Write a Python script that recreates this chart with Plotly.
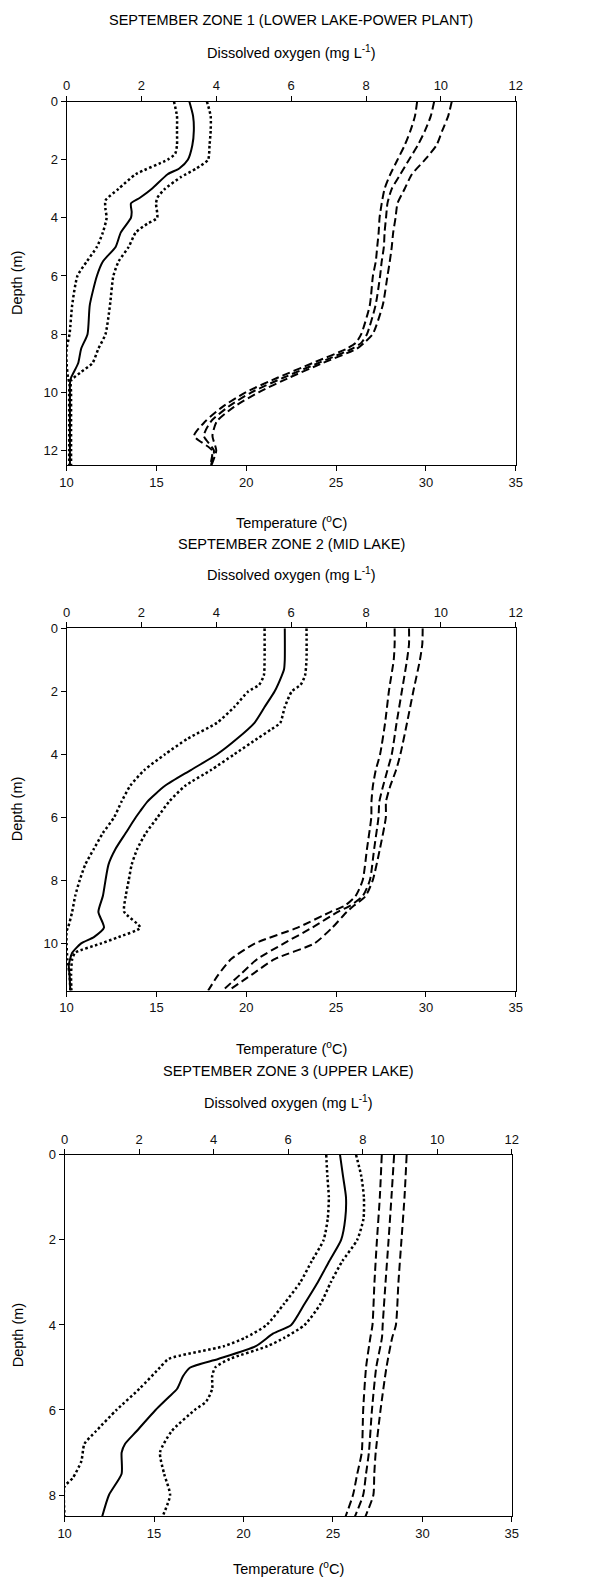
import plotly.graph_objects as go

# ---------------- DATA ----------------
PANEL_TITLES = ["SEPTEMBER ZONE 1 (LOWER LAKE-POWER PLANT)",
                "SEPTEMBER ZONE 2 (MID LAKE)",
                "SEPTEMBER ZONE 3 (UPPER LAKE)"]
DEPTH_MAX = [12.5, 11.5, 8.5]
DO_TICKS = [0, 2, 4, 6, 8, 10, 12]
T_TICKS = [10, 15, 20, 25, 30, 35]

# Zone 1 - dissolved oxygen (mg/L)
Z1_DO_MEAN_D = [0, 0.5, 1, 1.5, 2, 2.3, 2.5, 3, 3.3, 3.5, 3.8, 4, 4.5, 5, 5.5, 6, 7, 8, 8.5, 9, 9.5, 9.7, 10, 11, 12, 12.5]
Z1_DO_MEAN = [3.28, 3.38, 3.40, 3.36, 3.24, 3.01, 2.70, 2.28, 1.97, 1.72, 1.74, 1.72, 1.45, 1.31, 0.97, 0.81, 0.62, 0.56, 0.39, 0.31, 0.12, 0.09, 0.09, 0.09, 0.09, 0.09]
Z1_DO_LO_D = [0, 0.5, 1, 1.5, 1.8, 2, 2.5, 3, 3.4, 3.7, 4, 4.5, 5, 5.5, 6, 7, 8, 8.5, 9, 9.5, 9.7, 10, 11, 12, 12.5]
Z1_DO_LO = [2.87, 2.95, 2.95, 2.95, 2.90, 2.70, 1.85, 1.39, 1.04, 1.04, 1.07, 0.97, 0.81, 0.54, 0.29, 0.15, 0.08, 0.0, 0.0, 0.04, 0.08, 0.07, 0.07, 0.07, 0.07]
Z1_DO_HI_D = [0, 0.5, 1, 1.5, 2, 2.3, 2.6, 3, 3.3, 3.5, 4, 4.2, 4.5, 5, 5.5, 6, 7, 8, 8.5, 9, 9.3, 9.6, 10, 11, 12, 12.5]
Z1_DO_HI = [3.75, 3.85, 3.85, 3.82, 3.78, 3.47, 3.05, 2.63, 2.43, 2.39, 2.42, 2.16, 1.85, 1.66, 1.39, 1.25, 1.16, 1.04, 0.85, 0.69, 0.39, 0.12, 0.12, 0.12, 0.12, 0.12]
# Zone 1 - temperature (deg C)
Z1_T_D = [0, 0.5, 1, 1.5, 2, 2.5, 3, 3.5, 4, 4.5, 5, 5.5, 6, 7, 8, 8.3, 8.5, 9, 9.5, 10, 10.5, 11, 11.5, 12, 12.5]
Z1_T_MEAN = [30.46, 30.27, 29.95, 29.55, 29.06, 28.58, 28.10, 27.86, 27.78, 27.70, 27.66, 27.54, 27.45, 27.20, 26.72, 26.40, 25.90, 23.99, 22.06, 20.29, 19.00, 18.04, 17.64, 18.20, 18.04]
Z1_T_LO = [29.51, 29.39, 29.14, 28.82, 28.42, 28.02, 27.70, 27.54, 27.42, 27.37, 27.29, 27.21, 27.05, 26.88, 26.40, 26.10, 25.60, 23.67, 21.74, 19.97, 18.68, 17.72, 17.10, 18.10, 18.00]
Z1_T_HI = [31.44, 31.24, 30.91, 30.59, 29.95, 29.22, 28.82, 28.42, 28.31, 28.18, 28.10, 27.99, 27.86, 27.60, 27.04, 26.56, 26.16, 24.23, 22.38, 20.69, 19.32, 18.36, 18.12, 18.33, 18.07]

# Zone 2 - dissolved oxygen
Z2_DO_MEAN_D = [0, 1, 1.3, 1.5, 2, 2.5, 3, 3.5, 4, 4.5, 5, 5.5, 5.8, 6, 6.5, 7, 7.5, 8, 8.5, 9, 9.5, 9.8, 10, 10.3, 10.7, 11, 11.5]
Z2_DO_MEAN = [5.83, 5.83, 5.81, 5.75, 5.56, 5.29, 5.02, 4.56, 4.02, 3.32, 2.63, 2.16, 1.97, 1.85, 1.58, 1.31, 1.12, 1.04, 0.97, 0.85, 1.00, 0.73, 0.39, 0.15, 0.06, 0.08, 0.10]
Z2_DO_LO_D = [0, 1, 1.5, 1.8, 2, 2.5, 3, 3.5, 4, 4.5, 5, 5.5, 6, 6.5, 7, 7.5, 8, 8.5, 9, 9.5, 9.6, 10, 10.5, 11, 11.5]
Z2_DO_LO = [5.29, 5.29, 5.27, 5.14, 4.86, 4.48, 4.02, 3.24, 2.63, 2.08, 1.70, 1.47, 1.27, 0.97, 0.73, 0.50, 0.35, 0.23, 0.15, 0.04, 0.0, 0.0, 0.02, 0.08, 0.10]
Z2_DO_HI_D = [0, 1, 1.5, 1.8, 2, 2.5, 3, 3.2, 3.5, 4, 4.5, 5, 5.5, 6, 6.5, 7, 7.5, 8, 8.5, 9, 9.5, 9.8, 10, 10.3, 10.5, 11, 11.5]
Z2_DO_HI = [6.41, 6.41, 6.37, 6.25, 6.02, 5.83, 5.71, 5.48, 5.10, 4.48, 3.86, 3.17, 2.74, 2.43, 2.12, 1.89, 1.74, 1.66, 1.58, 1.54, 1.97, 1.39, 0.93, 0.23, 0.15, 0.12, 0.13]
# Zone 2 - temperature
Z2_T_D = [0, 0.5, 1, 2, 3, 4, 4.5, 5, 5.5, 6, 7, 8, 8.5, 8.8, 9, 9.5, 10, 10.5, 11, 11.5]
Z2_T_MEAN = [29.06, 29.06, 28.95, 28.66, 28.37, 28.10, 27.86, 27.62, 27.41, 27.36, 27.12, 26.88, 26.48, 25.80, 25.10, 23.67, 22.10, 20.61, 19.65, 18.68]
Z2_T_LO = [28.26, 28.26, 28.21, 27.94, 27.73, 27.45, 27.21, 27.05, 26.97, 26.96, 26.72, 26.48, 26.08, 25.50, 24.70, 22.86, 20.50, 19.16, 18.44, 17.88]
Z2_T_HI = [29.82, 29.80, 29.67, 29.30, 28.95, 28.58, 28.34, 28.02, 27.78, 27.77, 27.44, 27.04, 26.64, 26.00, 25.60, 24.79, 23.80, 21.58, 20.29, 19.00]

# Zone 3 - dissolved oxygen
Z3_DO_MEAN_D = [0, 0.5, 1, 1.5, 2, 2.5, 3, 3.5, 4, 4.2, 4.5, 4.8, 5, 5.2, 5.5, 5.7, 6, 6.5, 6.8, 7, 7.5, 8, 8.5]
Z3_DO_MEAN = [7.39, 7.47, 7.55, 7.53, 7.42, 7.10, 6.79, 6.44, 6.08, 5.60, 5.13, 4.12, 3.37, 3.18, 3.02, 2.79, 2.44, 1.93, 1.62, 1.53, 1.53, 1.19, 1.01]
Z3_DO_LO_D = [0, 0.5, 1, 1.5, 2, 2.5, 3, 3.5, 4, 4.3, 4.5, 4.8, 5, 5.5, 6, 6.5, 6.8, 7.2, 7.6, 7.8, 8.5]
Z3_DO_LO = [7.02, 7.05, 7.09, 7.06, 6.95, 6.63, 6.32, 5.89, 5.42, 4.85, 4.27, 2.79, 2.56, 2.01, 1.39, 0.84, 0.53, 0.45, 0.22, 0.0, 0.0]
Z3_DO_HI_D = [0, 0.5, 1, 1.5, 2, 2.5, 3, 3.5, 4, 4.3, 4.5, 4.8, 5, 5.2, 5.5, 5.8, 6, 6.5, 7, 7.5, 8, 8.5]
Z3_DO_HI = [7.82, 7.96, 8.03, 8.02, 7.85, 7.45, 7.14, 6.87, 6.44, 5.90, 5.44, 4.43, 4.04, 3.96, 3.96, 3.80, 3.49, 2.87, 2.56, 2.67, 2.83, 2.63]
# Zone 3 - temperature
Z3_T_D = [0, 1, 2, 3, 4, 4.3, 5, 6, 7, 7.5, 8, 8.5]
Z3_T_MEAN = [28.42, 28.27, 28.11, 27.94, 27.78, 27.74, 27.42, 27.18, 27.01, 26.85, 26.69, 26.23]
Z3_T_LO = [27.73, 27.62, 27.46, 27.32, 27.21, 27.09, 26.85, 26.69, 26.61, 26.36, 26.12, 25.71]
Z3_T_HI = [29.12, 29.00, 28.83, 28.66, 28.52, 28.31, 27.99, 27.66, 27.39, 27.31, 27.26, 26.82]

ZONES = [
    dict(do=[(Z1_DO_LO_D, Z1_DO_LO), (Z1_DO_MEAN_D, Z1_DO_MEAN), (Z1_DO_HI_D, Z1_DO_HI)],
         t=[(Z1_T_D, Z1_T_LO), (Z1_T_D, Z1_T_MEAN), (Z1_T_D, Z1_T_HI)]),
    dict(do=[(Z2_DO_LO_D, Z2_DO_LO), (Z2_DO_MEAN_D, Z2_DO_MEAN), (Z2_DO_HI_D, Z2_DO_HI)],
         t=[(Z2_T_D, Z2_T_LO), (Z2_T_D, Z2_T_MEAN), (Z2_T_D, Z2_T_HI)]),
    dict(do=[(Z3_DO_LO_D, Z3_DO_LO), (Z3_DO_MEAN_D, Z3_DO_MEAN), (Z3_DO_HI_D, Z3_DO_HI)],
         t=[(Z3_T_D, Z3_T_LO), (Z3_T_D, Z3_T_MEAN), (Z3_T_D, Z3_T_HI)]),
]

# ---------------- LAYOUT (pixel geometry) ----------------
W, H = 595, 1580
FONT = "Arial, 'Liberation Sans', sans-serif"
# (left, right, top, bottom) of each plot area in pixels
BOXES = [(61, 521, 95, 460), (61, 521, 624, 988), (59, 517, 1153, 1516)]
TITLE_Y = [13, 539, 1069]
DO_LABEL_Y = [45, 570, 1100]
T_LABEL_Y = [517, 1046, 1568]
DEPTH_LABEL_X = 11

def px_x(x):
    return x / W

def px_y(y):
    return 1 - y / H

fig = go.Figure()
annotations = []
axis_common = dict(showline=True, linecolor="black", linewidth=1, ticks="outside",
                   ticklen=5, tickwidth=1, tickcolor="black", showgrid=False, zeroline=False,
                   tickfont=dict(family=FONT, size=13, color="#111"))

for i, (zone, box) in enumerate(zip(ZONES, BOXES)):
    l, r, t, b = box
    xb = f"xaxis{2*i+1 if i else ''}"
    xt = f"xaxis{2*i+2}"
    ya = f"yaxis{i+1 if i else ''}"
    xb_ref = f"x{2*i+1 if i else ''}"
    xt_ref = f"x{2*i+2}"
    y_ref = f"y{i+1 if i else ''}"
    xdom = [px_x(l), px_x(r)]
    ydom = [px_y(b), px_y(t)]

    fig.update_layout(**{
        xb: dict(domain=xdom, anchor=y_ref, range=[10, 35], tickvals=T_TICKS, side="bottom",
                 **axis_common),
        xt: dict(domain=xdom, anchor=y_ref, overlaying=xb_ref, range=[0, 12], tickvals=DO_TICKS,
                 side="top", **axis_common),
        ya: dict(domain=ydom, anchor=xb_ref, range=[DEPTH_MAX[i], 0],
                 tickvals=list(range(0, int(DEPTH_MAX[i]) + 1, 2)), mirror=True, **axis_common),
    })

    # temperature profiles (dashed), bottom axis
    for d, v in zone["t"]:
        fig.add_trace(go.Scatter(x=v, y=d, xaxis=xb_ref, yaxis=y_ref, mode="lines",
                                 line=dict(color="black", width=2, dash="8px,4px", shape="spline",
                                           smoothing=0.6),
                                 showlegend=False, hoverinfo="skip"))
    # dissolved oxygen profiles: sd dotted, mean solid, top axis
    for k, (d, v) in enumerate(zone["do"]):
        if k == 1:
            ln = dict(color="black", width=2, shape="spline", smoothing=0.6)
        else:
            ln = dict(color="black", width=2.5, dash="2.5px,2.5px", shape="spline", smoothing=0.6)
        fig.add_trace(go.Scatter(x=v, y=d, xaxis=xt_ref, yaxis=y_ref, mode="lines", line=ln,
                                 showlegend=False, hoverinfo="skip"))

    cx = px_x((l + r) / 2)
    annotations += [
        dict(text=PANEL_TITLES[i], x=cx, y=px_y(TITLE_Y[i]), xref="paper", yref="paper",
             showarrow=False, xanchor="center", yanchor="middle",
             font=dict(family=FONT, size=14.5, color="black")),
        dict(text="Dissolved oxygen (mg L<sup>-1</sup>)", x=cx, y=px_y(DO_LABEL_Y[i]), xref="paper",
             yref="paper", showarrow=False, xanchor="center", yanchor="middle",
             font=dict(family=FONT, size=14.5, color="black")),
        dict(text="Temperature (<sup>o</sup>C)", x=cx, y=px_y(T_LABEL_Y[i]), xref="paper",
             yref="paper", showarrow=False, xanchor="center", yanchor="middle",
             font=dict(family=FONT, size=14.5, color="black")),
        dict(text="Depth (m)", x=px_x(DEPTH_LABEL_X), y=px_y((t + b) / 2), xref="paper",
             yref="paper", showarrow=False, textangle=-90, xanchor="center", yanchor="middle",
             font=dict(family=FONT, size=14.5, color="black")),
    ]

fig.update_layout(width=W, height=H, margin=dict(l=0, r=0, t=0, b=0),
                  paper_bgcolor="white", plot_bgcolor="white", annotations=annotations,
                  showlegend=False)

fig.write_html("out.html", config={"displayModeBar": False},
               post_script="document.body.style.margin='0';document.body.style.overflow='hidden';")
